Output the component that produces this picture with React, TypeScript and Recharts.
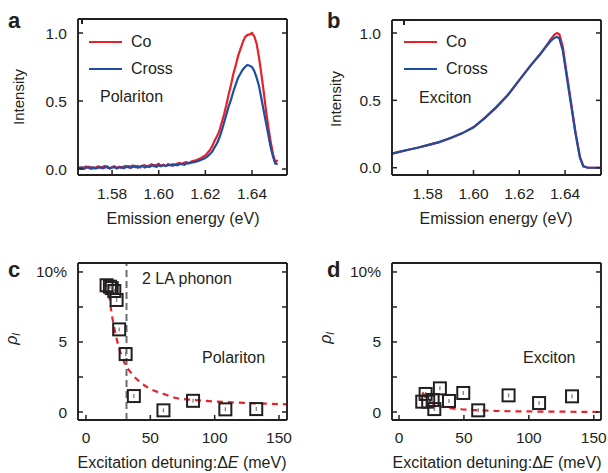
import React from "react";
import {
  ComposedChart,
  LineChart,
  Line,
  Scatter,
  XAxis,
  YAxis,
  ReferenceLine,
  Legend,
} from "recharts";

const FONT = '"Liberation Sans", Arial, Helvetica, sans-serif';
const INK = "#231f20";
const RED = "#e8202a";
const BLUE = "#1f4d9f";

// a: polariton emission spectra
const energyA = [
  1.5655, 1.567, 1.568, 1.569, 1.57, 1.571, 1.572, 1.573, 1.574, 1.575,
  1.576, 1.577, 1.578, 1.579, 1.58, 1.581, 1.582, 1.583, 1.584, 1.585,
  1.586, 1.587, 1.588, 1.589, 1.59, 1.591, 1.592, 1.593, 1.594, 1.595,
  1.596, 1.597, 1.598, 1.599, 1.6, 1.601, 1.602, 1.603, 1.604, 1.605,
  1.606, 1.607, 1.608, 1.609, 1.61, 1.611, 1.612, 1.613, 1.614, 1.615,
  1.616, 1.617, 1.618, 1.619,
  1.62, 1.621, 1.622, 1.623, 1.624, 1.625, 1.626, 1.627, 1.628, 1.629,
  1.63, 1.631, 1.632, 1.633, 1.634, 1.635, 1.636, 1.637, 1.638, 1.639,
  1.64, 1.641, 1.642, 1.643, 1.644, 1.645, 1.646, 1.647, 1.648, 1.649,
  1.65, 1.651,
];
const coA = [
  0.012, 0.002, 0.013, 0.018, 0.006, 0.015, 0.004, 0.012, 0.02, 0.008,
  0.016, 0.022, 0.009, 0.005, 0.015, 0.02, 0.01, 0.017, 0.007, 0.018,
  0.023, 0.012, 0.02, 0.026, 0.014, 0.022, 0.011, 0.024, 0.028, 0.017,
  0.026, 0.034, 0.02, 0.03, 0.038, 0.024, 0.032, 0.022, 0.036, 0.028,
  0.036, 0.029, 0.04, 0.045, 0.034, 0.047, 0.05, 0.043, 0.055, 0.06,
  0.064, 0.072, 0.078, 0.09,
  0.1, 0.12, 0.14, 0.17, 0.21, 0.24, 0.28, 0.34, 0.4, 0.47,
  0.55, 0.62, 0.7, 0.76, 0.83, 0.88, 0.93, 0.97, 0.985, 0.99,
  1.0, 0.975, 0.92, 0.82, 0.7, 0.57, 0.43, 0.31, 0.2, 0.11,
  0.05, 0.065,
];
const crossA = [
  0.006, 0.014, 0.0, 0.01, 0.016, 0.001, 0.012, 0.003, 0.009, 0.015,
  0.005, 0.012, 0.018, 0.004, 0.01, 0.014, 0.003, 0.011, 0.016, 0.006,
  0.014, 0.02, 0.008, 0.016, 0.022, 0.01, 0.018, 0.023, 0.012, 0.02,
  0.015, 0.024, 0.029, 0.016, 0.026, 0.02, 0.03, 0.021, 0.028, 0.031,
  0.024, 0.034, 0.027, 0.035, 0.039, 0.031, 0.041, 0.043, 0.046, 0.05,
  0.054, 0.06, 0.066, 0.074,
  0.08, 0.095, 0.11, 0.13, 0.16, 0.19, 0.23, 0.28, 0.34, 0.4,
  0.46, 0.51, 0.57, 0.62, 0.67, 0.7, 0.73, 0.75, 0.765, 0.76,
  0.75, 0.72, 0.67, 0.61, 0.52, 0.43, 0.34, 0.25, 0.16, 0.09,
  0.04, 0.035,
];

// b: exciton emission spectra
const energyB = [
  1.5644, 1.568, 1.572, 1.576, 1.58, 1.585, 1.59, 1.595, 1.6, 1.605,
  1.61, 1.615, 1.62, 1.625, 1.629, 1.632, 1.634, 1.6355, 1.6365, 1.6375,
  1.639, 1.6407, 1.6425, 1.6445, 1.6465, 1.648, 1.65, 1.653, 1.6557,
];
const coB = [
  0.105, 0.12, 0.135, 0.15, 0.168, 0.19, 0.22, 0.255, 0.3, 0.37,
  0.45, 0.54, 0.65, 0.76, 0.84, 0.91, 0.96, 0.99, 1.0, 0.99,
  0.9, 0.7, 0.5, 0.27, 0.08, 0.01, 0.0, 0.0, 0.0,
];
const crossB = [
  0.105, 0.12, 0.135, 0.15, 0.168, 0.19, 0.22, 0.255, 0.3, 0.37,
  0.45, 0.54, 0.65, 0.76, 0.84, 0.905, 0.945, 0.965, 0.97, 0.96,
  0.87, 0.68, 0.48, 0.26, 0.075, 0.01, 0.0, 0.0, 0.0,
];

// c: polariton linear polarization degree vs detuning
const detuningC = [16, 18.6, 20, 22, 23.8, 25.8, 30.8, 37.2, 60.2, 83.2, 108.3, 132.3];
const rhoC = [9.05, 8.95, 8.85, 8.64, 8.0, 5.9, 4.14, 1.14, 0.12, 0.8, 0.19, 0.21];
const fitDetuningC = [18, 20, 22, 25, 30, 35, 40, 50, 60, 70, 85, 100, 115, 132, 156];
const fitRhoC = [8.4, 7.0, 6.0, 4.8, 3.5, 2.8, 2.3, 1.65, 1.3, 1.0, 0.85, 0.75, 0.68, 0.62, 0.55];
const phononC = 31.5;

// d: exciton linear polarization degree vs detuning
const detuningD = [17.9, 20.5, 22.5, 25.9, 27.2, 31.5, 38.5, 49.5, 61, 84.4, 107.9, 133.3];
const rhoD = [0.74, 1.29, 0.74, 0.86, 0.21, 1.69, 0.79, 1.36, 0.12, 1.19, 0.64, 1.12];
const fitDetuningD = [18, 20, 23, 26, 28, 32, 37, 47, 60, 78, 100, 130, 156];
const fitRhoD = [1.4, 1.1, 0.78, 0.6, 0.5, 0.4, 0.31, 0.2, 0.13, 0.07, 0.04, 0.02, 0.0];

const ticksEnergy = [1.58, 1.6, 1.62, 1.64];
const ticksIntensity = [0, 0.5, 1];
const ticksDetuning = [0, 50, 100, 150];
const ticksRho = [0, 2.5, 5, 7.5, 10];

const rowsA = energyA.map((x, i) => ({ x, co: coA[i], cross: crossA[i] }));
const rowsB = energyB.map((x, i) => ({ x, co: coB[i], cross: crossB[i] }));
const pointsC = detuningC.map((x, i) => ({ x, y: rhoC[i] }));
const fitC = fitDetuningC.map((x, i) => ({ x, y: fitRhoC[i] }));
const pointsD = detuningD.map((x, i) => ({ x, y: rhoD[i] }));
const fitD = fitDetuningD.map((x, i) => ({ x, y: fitRhoD[i] }));

type Box = { left: number; top: number; width: number; height: number };
type Plot = { x0: number; x1: number; y0: number; y1: number };
const AXIS_W = 40;
const AXIS_H = 30;

function marginFor(b: Box, p: Plot) {
  return {
    left: p.x0 - b.left - AXIS_W,
    right: b.left + b.width - p.x1 - 1,
    top: p.y0 - b.top - 1,
    bottom: b.top + b.height - p.y1 - AXIS_H,
  };
}

const boxA: Box = { left: 0, top: 0, width: 304, height: 236 };
const boxB: Box = { left: 304, top: 0, width: 304, height: 236 };
const boxC: Box = { left: 0, top: 236, width: 304, height: 237 };
const boxD: Box = { left: 304, top: 236, width: 304, height: 237 };
const plotA: Plot = { x0: 78, x1: 287, y0: 19, y1: 175 };
const plotB: Plot = { x0: 392, x1: 601, y0: 20, y1: 175 };
const plotC: Plot = { x0: 78, x1: 287, y0: 263, y1: 420 };
const plotD: Plot = { x0: 392, x1: 601, y0: 263, y1: 420 };

const axisLine = { stroke: INK, strokeWidth: 1.9 };
const tickLine = { stroke: INK, strokeWidth: 1.5 };
const tickText = { fontSize: 15.5, fill: INK, fontFamily: FONT };
const blank = () => "";
const fmtEnergy = (v: number) => v.toFixed(2);
const fmtIntensity = (v: number) => v.toFixed(1);
const fmtRho = (v: number) => (v === 10 ? "10%" : v === 0 || v === 5 ? String(v) : "");

const boxStyle = (b: Box): React.CSSProperties => ({
  position: "absolute",
  left: b.left,
  top: b.top,
  width: b.width,
  height: b.height,
});

const spectraSeries = [
  { key: "co", name: "Co", color: RED },
  { key: "cross", name: "Cross", color: BLUE },
];

function SpectraLegend() {
  return (
    <div style={{ fontFamily: FONT }}>
      {spectraSeries.map((s) => (
        <div key={s.key} style={{ display: "flex", alignItems: "center", height: 27 }}>
          <span style={{ width: 33, height: 2.5, background: s.color, marginRight: 9 }} />
          <span style={{ fontSize: 16, color: INK }}>{s.name}</span>
        </div>
      ))}
    </div>
  );
}

const Square = (props: any) => {
  const { cx, cy } = props;
  if (cx == null || cy == null) return <g />;
  return (
    <g>
      <rect x={cx - 6} y={cy - 6} width={12} height={12} fill="none" stroke={INK} strokeWidth={2} />
      <line x1={cx} x2={cx} y1={cy - 2} y2={cy + 2} stroke="#777" strokeWidth={1.2} />
    </g>
  );
};

function SpectrumPanel(props: {
  box: Box;
  plot: Plot;
  rows: Array<{ x: number; co: number; cross: number }>;
  xDomain: [number, number];
  yDomain: [number, number];
  legendLeft: number;
}) {
  const { box, plot, rows, xDomain, yDomain, legendLeft } = props;
  return (
    <div style={boxStyle(box)}>
      <LineChart width={box.width} height={box.height} data={rows} margin={marginFor(box, plot)}>
        <XAxis
          dataKey="x"
          type="number"
          domain={xDomain}
          allowDataOverflow
          ticks={ticksEnergy}
          interval={0}
          height={AXIS_H}
          tickSize={-5}
          tickMargin={18}
          tickFormatter={fmtEnergy}
          axisLine={axisLine}
          tickLine={tickLine}
          tick={tickText}
        />
        <XAxis
          xAxisId="t"
          orientation="top"
          type="number"
          domain={xDomain}
          allowDataOverflow
          ticks={ticksEnergy}
          interval={0}
          height={1}
          tickSize={-5}
          tickFormatter={blank}
          axisLine={axisLine}
          tickLine={tickLine}
        />
        <YAxis
          type="number"
          domain={yDomain}
          allowDataOverflow
          ticks={ticksIntensity}
          interval={0}
          width={AXIS_W}
          tickSize={-5}
          tickMargin={16}
          tickFormatter={fmtIntensity}
          axisLine={axisLine}
          tickLine={tickLine}
          tick={tickText}
        />
        <YAxis
          yAxisId="r"
          orientation="right"
          type="number"
          domain={yDomain}
          allowDataOverflow
          ticks={ticksIntensity}
          interval={0}
          width={1}
          tickSize={-5}
          tickFormatter={blank}
          axisLine={axisLine}
          tickLine={tickLine}
        />
        <Legend
          layout="horizontal"
          verticalAlign="middle"
          align="center"
          wrapperStyle={{ left: legendLeft, top: 28.5, width: 100, height: 54 }}
          content={() => <SpectraLegend />}
        />
        {spectraSeries.map((s) => (
          <Line
            key={s.key}
            dataKey={s.key}
            name={s.name}
            type="linear"
            stroke={s.color}
            strokeWidth={2.2}
            dot={false}
            isAnimationActive={false}
          />
        ))}
      </LineChart>
    </div>
  );
}

function RhoPanel(props: {
  box: Box;
  plot: Plot;
  points: Array<{ x: number; y: number }>;
  fit: Array<{ x: number; y: number }>;
  xDomain: [number, number];
  phonon?: number;
}) {
  const { box, plot, points, fit, xDomain, phonon } = props;
  const yDomain: [number, number] = [-0.57, 10.64];
  return (
    <div style={boxStyle(box)}>
      <ComposedChart width={box.width} height={box.height} margin={marginFor(box, plot)}>
        <XAxis
          dataKey="x"
          type="number"
          domain={xDomain}
          allowDataOverflow
          ticks={ticksDetuning}
          interval={0}
          height={AXIS_H}
          tickSize={-5}
          tickMargin={17}
          axisLine={axisLine}
          tickLine={tickLine}
          tick={tickText}
        />
        <XAxis
          xAxisId="t"
          orientation="top"
          type="number"
          domain={xDomain}
          allowDataOverflow
          ticks={ticksDetuning}
          interval={0}
          height={1}
          tickSize={-5}
          tickFormatter={blank}
          axisLine={axisLine}
          tickLine={tickLine}
        />
        <YAxis
          dataKey="y"
          type="number"
          domain={yDomain}
          allowDataOverflow
          ticks={ticksRho}
          interval={0}
          width={AXIS_W}
          tickSize={-5}
          tickMargin={16}
          tickFormatter={fmtRho}
          axisLine={axisLine}
          tickLine={tickLine}
          tick={tickText}
        />
        <YAxis
          yAxisId="r"
          orientation="right"
          type="number"
          domain={yDomain}
          allowDataOverflow
          ticks={ticksRho}
          interval={0}
          width={1}
          tickSize={-5}
          tickFormatter={blank}
          axisLine={axisLine}
          tickLine={tickLine}
        />
        {phonon !== undefined && (
          <ReferenceLine x={phonon} stroke="#6d6e70" strokeWidth={2} strokeDasharray="7 4" />
        )}
        <Line
          data={fit}
          dataKey="y"
          type="monotone"
          stroke={RED}
          strokeWidth={2.2}
          strokeDasharray="6 5"
          dot={false}
          isAnimationActive={false}
        />
        <Scatter data={points} dataKey="y" shape={Square} isAnimationActive={false} />
      </ComposedChart>
    </div>
  );
}

const label16: React.SVGProps<SVGTextElement> = { fontSize: 16, fill: INK, fontFamily: FONT };
const letter: React.SVGProps<SVGTextElement> = { fontSize: 22, fontWeight: 700, fill: INK, fontFamily: FONT };

function Annotations() {
  return (
    <svg
      width={608}
      height={473}
      style={{ position: "absolute", left: 0, top: 0, pointerEvents: "none" }}
    >
      <text x={8} y={28} {...letter}>a</text>
      <text x={327} y={28} {...letter}>b</text>
      <text x={8} y={277} {...letter}>c</text>
      <text x={327} y={277} {...letter}>d</text>

      <text x={100} y={102} {...label16}>Polariton</text>
      <text x={419} y={103} {...label16}>Exciton</text>
      <text x={142} y={284} {...label16}>2 LA phonon</text>
      <text x={202} y={363} {...label16}>Polariton</text>
      <text x={523} y={363} {...label16}>Exciton</text>

      <text x={183} y={224} textAnchor="middle" {...label16}>Emission energy (eV)</text>
      <text x={496} y={224} textAnchor="middle" {...label16}>Emission energy (eV)</text>
      <text x={182} y={468} textAnchor="middle" {...label16}>
        Excitation detuning:Δ<tspan fontStyle="italic">E</tspan> (meV)
      </text>
      <text x={497} y={468} textAnchor="middle" {...label16}>
        Excitation detuning:Δ<tspan fontStyle="italic">E</tspan> (meV)
      </text>

      <text transform="translate(24,97) rotate(-90)" textAnchor="middle" {...label16} fontSize={15}>
        Intensity
      </text>
      <text transform="translate(341,99) rotate(-90)" textAnchor="middle" {...label16} fontSize={15}>
        Intensity
      </text>
      <text transform="translate(17,339) rotate(-90)" textAnchor="middle" {...label16} fontStyle="italic">
        ρ<tspan fontSize={11} dy={3}>l</tspan>
      </text>
      <text transform="translate(331,338) rotate(-90)" textAnchor="middle" {...label16} fontStyle="italic">
        ρ<tspan fontSize={11} dy={3}>l</tspan>
      </text>
    </svg>
  );
}

export default function App() {
  return (
    <div
      style={{
        position: "absolute",
        left: 0,
        top: 0,
        width: 608,
        height: 473,
        background: "#fff",
        fontFamily: FONT,
        overflow: "hidden",
      }}
    >
      <SpectrumPanel
        box={boxA}
        plot={plotA}
        rows={rowsA}
        xDomain={[1.5654, 1.655]}
        yDomain={[-0.044, 1.103]}
        legendLeft={89}
      />
      <SpectrumPanel
        box={boxB}
        plot={plotB}
        rows={rowsB}
        xDomain={[1.5644, 1.6557]}
        yDomain={[-0.054, 1.0965]}
        legendLeft={100}
      />
      <RhoPanel box={boxC} plot={plotC} points={pointsC} fit={fitC} xDomain={[-6.2, 156.2]} phonon={phononC} />
      <RhoPanel box={boxD} plot={plotD} points={pointsD} fit={fitD} xDomain={[-5.4, 155.6]} />
      <Annotations />
    </div>
  );
}
